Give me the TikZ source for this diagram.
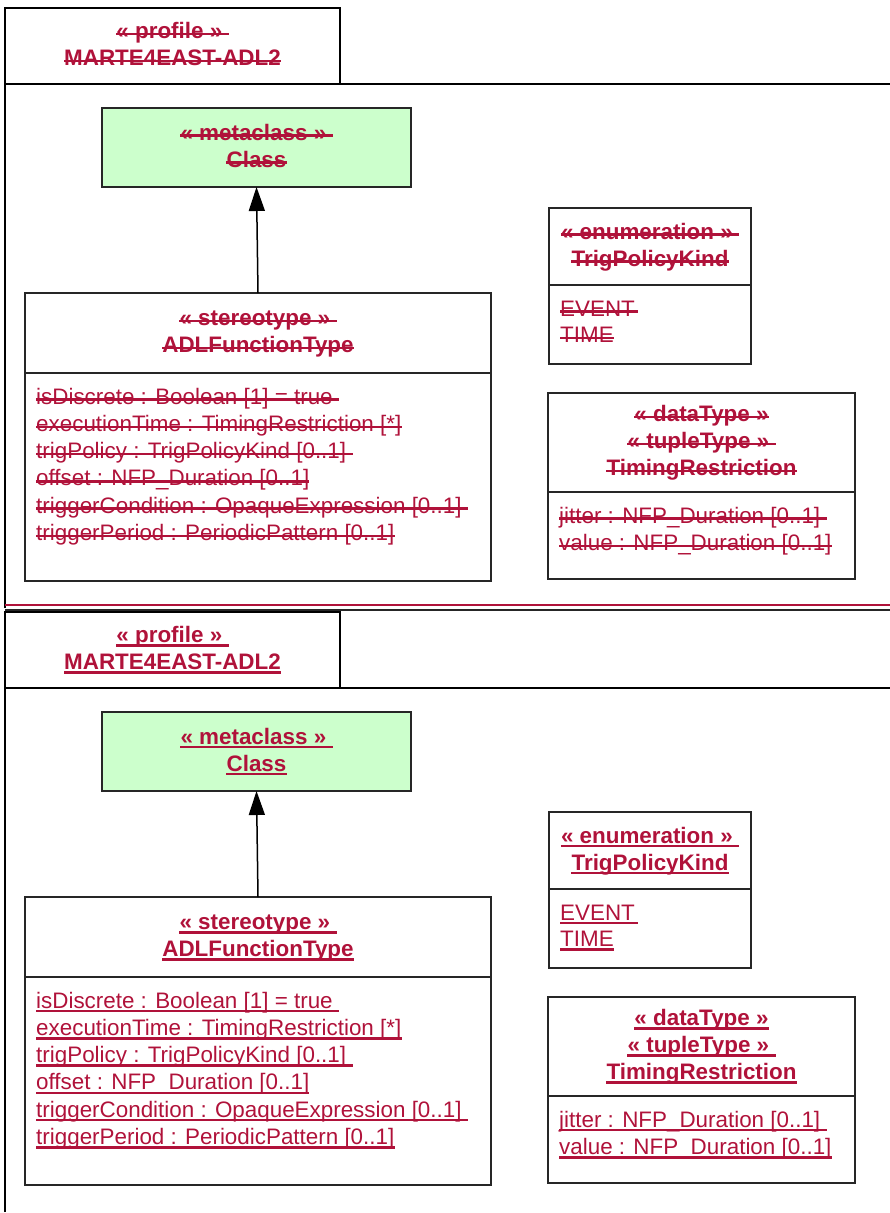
\documentclass[tikz,border=0pt]{standalone}
\usepackage{fontspec}
\setmainfont{Liberation Sans}
\usetikzlibrary{positioning,arrows.meta}
\definecolor{mred}{RGB}{176,18,58}
\definecolor{mgreen}{RGB}{204,255,204}
\newcommand\tsp{\kern 6.2pt}% trailing space that stays marked
\tikzset{
  cbox/.style={rectangle, draw=black!85, line width=1.5pt, inner sep=0pt, outer sep=0pt},
  mk/.style={append after command={\pgfextra{\draw[mred, line width=2.5pt]
      ([yshift=\mkoff pt]\tikzlastnode.base west) -- ([yshift=\mkoff pt]\tikzlastnode.base east);}}},
  hln/.style={anchor=base, inner sep=0pt, text=mred, font=\bfseries\fontsize{22.4}{27}\selectfont, mk},
  aln/.style={anchor=base west, inner sep=0pt, text=mred, font=\fontsize{22.4}{27}\selectfont, mk},
  frame/.style={draw=black, line width=1.5pt},
  gen/.style={draw=black, line width=1.5pt, -{Triangle[length=24pt,width=16pt]}}
}
\begin{document}
\begin{tikzpicture}[x=1pt, y=-1pt]
  \useasboundingbox (0,0) rectangle (890,1213);
  % top: struck out version, bottom: underlined version
  \foreach \dy/\mkoff/\h in {0/4.5/t, 604/-3/b} {
  \begin{scope}[shift={(0,\dy)}]
    % profile tab and package frame
    \node[cbox, draw=black, anchor=north west, minimum width=335pt, minimum height=76pt] (tab\h) at (5,8) {};
    \node[hln] (tabL1\h) at ([shift={(0,-7.5)}]tab\h.center) {« profile »\tsp};
    \node[hln] (tabL2\h) at ([shift={(0,19.5)}]tab\h.center) {MARTE4EAST-ADL2};
    \draw[frame] (5,608) -- (tab\h.south west) -- (890,84);
    % metaclass
    \node[cbox, fill=mgreen, anchor=north west, minimum width=309pt, minimum height=79pt] (meta\h) at (102,108) {};
    \node[hln] (metaL1\h) at ([shift={(0,-7.5)}]meta\h.center) {« metaclass »\tsp};
    \node[hln] (metaL2\h) at ([shift={(0,19.5)}]meta\h.center) {Class};
    % stereotype
    \node[cbox, anchor=north west, minimum width=466pt, minimum height=80pt] (sterH\h) at (25,293) {};
    \node[hln] (sterL1\h) at ([shift={(0,-7.5)}]sterH\h.center) {« stereotype »\tsp};
    \node[hln] (sterL2\h) at ([shift={(0,19.5)}]sterH\h.center) {ADLFunctionType};
    \node[cbox, below=0pt of sterH\h, minimum width=466pt, minimum height=208pt] (sterB\h) {};
    \foreach \t [count=\i from 0] in {isDiscrete : Boolean [1] = true\tsp,
        executionTime : TimingRestriction [*],
        trigPolicy : TrigPolicyKind [0..1]\tsp,
        offset : NFP\_Duration [0..1],
        triggerCondition : OpaqueExpression [0..1]\tsp,
        triggerPeriod : PeriodicPattern [0..1]}
      \node[aln] (sterA\i\h) at ([shift={(11,31+27.3*\i)}]sterB\h.north west) {\t};
    \draw[gen] (sterH\h.north) -- (meta\h.south);
    % enumeration
    \node[cbox, anchor=north west, minimum width=202pt, minimum height=77pt] (enumH\h) at (549,208) {};
    \node[hln] (enumL1\h) at ([shift={(0,-7.5)}]enumH\h.center) {« enumeration »\tsp};
    \node[hln] (enumL2\h) at ([shift={(0,19.5)}]enumH\h.center) {TrigPolicyKind};
    \node[cbox, below=0pt of enumH\h, minimum width=202pt, minimum height=79pt] (enumB\h) {};
    \node[aln] (enumA0\h) at ([shift={(11,31)}]enumB\h.north west) {EVENT\kern3pt};
    \node[aln] (enumA1\h) at ([shift={(11,57.3)}]enumB\h.north west) {TIME};
    % data type
    \node[cbox, anchor=north west, minimum width=307pt, minimum height=99pt] (dataH\h) at (548,393) {};
    \node[hln] (dataL1\h) at ([shift={(0,-21)}]dataH\h.center) {« dataType »};
    \node[hln] (dataL2\h) at ([shift={(0,6)}]dataH\h.center) {« tupleType »\tsp};
    \node[hln] (dataL3\h) at ([shift={(0,33)}]dataH\h.center) {TimingRestriction};
    \node[cbox, below=0pt of dataH\h, minimum width=307pt, minimum height=87pt] (dataB\h) {};
    \node[aln] (dataA0\h) at ([shift={(11,31)}]dataB\h.north west) {jitter : NFP\_Duration [0..1]\tsp};
    \node[aln] (dataA1\h) at ([shift={(11,58.3)}]dataB\h.north west) {value : NFP\_Duration [0..1]};
  \end{scope}
  }
  % separator between the two versions
  \draw[mred, line width=2pt] (5,605) -- (890,605);
  \draw[black!85, line width=2pt] (5,610) -- (890,610);
\end{tikzpicture}
\end{document}
